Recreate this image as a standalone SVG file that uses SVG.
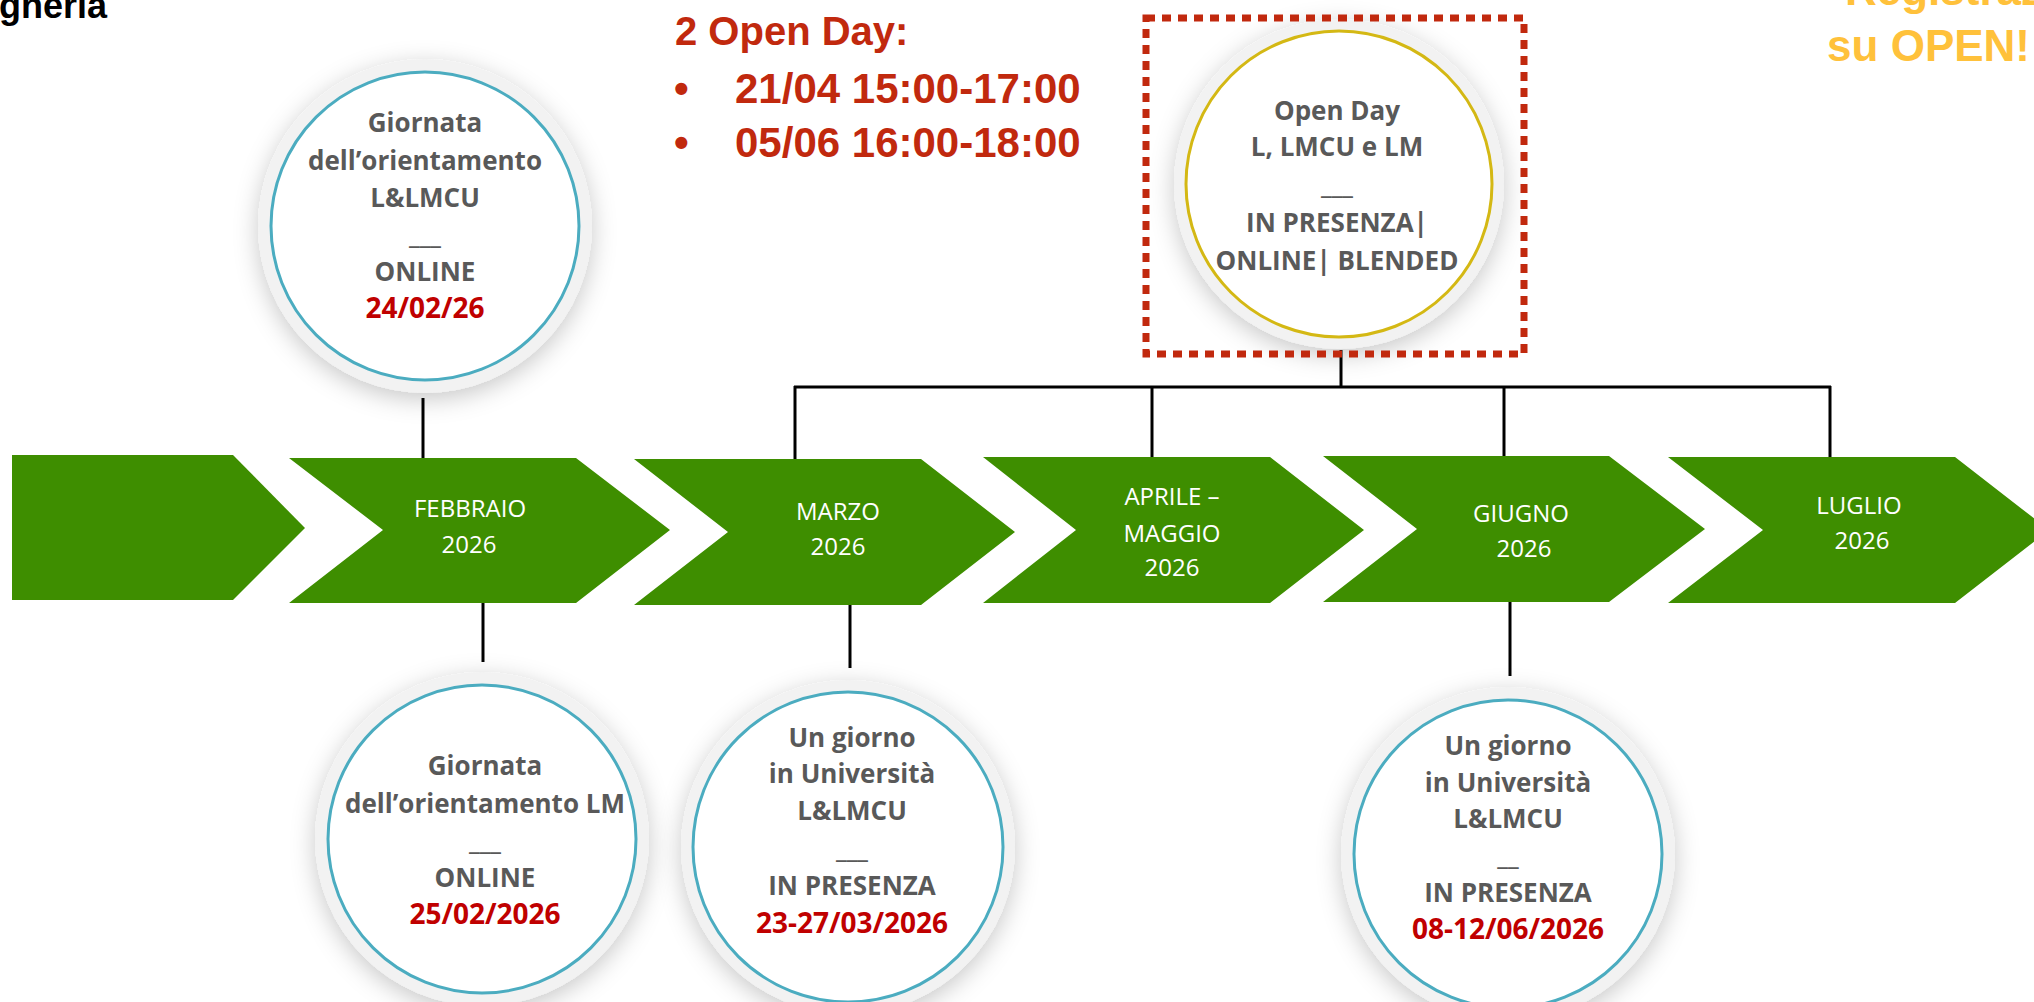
<svg xmlns="http://www.w3.org/2000/svg" width="2034" height="1002" viewBox="0 0 2034 1002">
<defs>
<filter id="sh" x="-30%" y="-30%" width="160%" height="160%">
<feDropShadow dx="0" dy="6" stdDeviation="12" flood-color="#000" flood-opacity="0.22"/>
</filter>
<style>
.chev{fill:#3E8E00}
.mon{font-family:"Open Sans",sans-serif;font-size:24px;fill:#FFFFFF;text-anchor:middle}
.ct{font-family:"Open Sans",sans-serif;font-weight:bold;font-size:26px;fill:#595959;text-anchor:middle}
.dt{fill:#C00000;font-size:28px}
.outer{fill:#F2F2F2;filter:url(#sh)}
.inT{fill:#FFFFFF;stroke:#4BACC0;stroke-width:3}
.inY{fill:#FFFFFF;stroke:#D4B814;stroke-width:3}
.con{stroke:#000;stroke-width:3;fill:none}
.hd{font-family:"Liberation Sans",Arial,sans-serif;font-weight:bold}
</style>
</defs>
<rect width="2034" height="1002" fill="#FFFFFF"/>

<text class="hd" x="-1" y="18" font-size="36" fill="#000">gneria</text>
<text class="hd" x="1845" y="5" font-size="44" fill="#FFC13B">Registrazione</text>
<text class="hd" x="2030" y="61" font-size="44" fill="#FFC13B" text-anchor="end">su OPEN!</text>

<g id="openday-info" class="hd" fill="#C1290E">
<text x="675" y="45" font-size="40">2 Open Day:</text>
<text x="674" y="103" font-size="42">•</text>
<text x="735" y="103" font-size="42">21/04 15:00-17:00</text>
<text x="674" y="157" font-size="42">•</text>
<text x="735" y="157" font-size="42">05/06 16:00-18:00</text>
</g>

<g id="connectors">
<line class="con" x1="423" y1="398" x2="423" y2="458"/>
<line class="con" x1="483" y1="603" x2="483" y2="662"/>
<line class="con" x1="850" y1="605" x2="850" y2="668"/>
<line class="con" x1="1510" y1="602" x2="1510" y2="676"/>
<line class="con" x1="1341" y1="350" x2="1341" y2="387"/>
<line class="con" x1="794" y1="387" x2="1831" y2="387"/>
<line class="con" x1="795" y1="386" x2="795" y2="459"/>
<line class="con" x1="1152" y1="386" x2="1152" y2="457"/>
<line class="con" x1="1504" y1="386" x2="1504" y2="456"/>
<line class="con" x1="1830" y1="386" x2="1830" y2="457"/>
</g>

<g id="timeline">
<g id="m0"><polygon class="chev" points="12,455 233,455 305,528 233,600 12,600"/></g>
<g id="m1"><polygon class="chev" points="289,458 576,458 670,530 576,603 289,603 383,530"/>
<text class="mon" x="470" y="517">FEBBRAIO</text><text class="mon" x="469" y="553">2026</text></g>
<g id="m2"><polygon class="chev" points="634,459 921,459 1015,532 921,605 634,605 728,532"/>
<text class="mon" x="838" y="520">MARZO</text><text class="mon" x="838" y="555">2026</text></g>
<g id="m3"><polygon class="chev" points="983,457 1270,457 1364,530 1270,603 983,603 1076,530"/>
<text class="mon" x="1172" y="505">APRILE –</text><text class="mon" x="1172" y="542">MAGGIO</text><text class="mon" x="1172" y="576">2026</text></g>
<g id="m4"><polygon class="chev" points="1323,456 1609,456 1705,529 1609,602 1323,602 1417,529"/>
<text class="mon" x="1521" y="522">GIUGNO</text><text class="mon" x="1524" y="557">2026</text></g>
<g id="m5"><polygon class="chev" points="1668,457 1955,457 2049,530 1955,603 1668,603 1763,530"/>
<text class="mon" x="1859" y="514">LUGLIO</text><text class="mon" x="1862" y="549">2026</text></g>
</g>

<g id="n-giornata-l">
<circle class="outer" cx="425" cy="226" r="167"/>
<circle class="inT" cx="425" cy="226" r="154"/>
<text class="ct" x="425" y="132">Giornata</text>
<text class="ct" x="425" y="170">dell’orientamento</text>
<text class="ct" x="425" y="207">L&amp;LMCU</text>
<text class="ct" x="425" y="244">___</text>
<text class="ct" x="425" y="281">ONLINE</text>
<text class="ct dt" x="425" y="318">24/02/26</text>
</g>

<g id="n-openday">
<circle class="outer" cx="1339" cy="184" r="165"/>
<circle class="inY" cx="1339" cy="184" r="153"/>
<text class="ct" x="1337" y="120">Open Day</text>
<text class="ct" x="1337" y="156">L, LMCU e LM</text>
<text class="ct" x="1337" y="194">___</text>
<text class="ct" x="1337" y="232">IN PRESENZA|</text>
<text class="ct" x="1337" y="270">ONLINE| BLENDED</text>
<rect x="1146" y="18" width="378" height="336" fill="none" stroke="#C1290E" stroke-width="7" stroke-dasharray="9 7"/>
</g>

<g id="n-giornata-lm">
<circle class="outer" cx="482" cy="839" r="167"/>
<circle class="inT" cx="482" cy="839" r="154"/>
<text class="ct" x="485" y="775">Giornata</text>
<text class="ct" x="485" y="813">dell’orientamento LM</text>
<text class="ct" x="485" y="850">___</text>
<text class="ct" x="485" y="887">ONLINE</text>
<text class="ct dt" x="485" y="924">25/02/2026</text>
</g>

<g id="n-ugu-marzo">
<circle class="outer" cx="848" cy="847" r="167"/>
<circle class="inT" cx="848" cy="847" r="155"/>
<text class="ct" x="852" y="747">Un giorno</text>
<text class="ct" x="852" y="783">in Università</text>
<text class="ct" x="852" y="820">L&amp;LMCU</text>
<text class="ct" x="852" y="858">___</text>
<text class="ct" x="852" y="895">IN PRESENZA</text>
<text class="ct dt" x="852" y="933">23-27/03/2026</text>
</g>

<g id="n-ugu-giugno">
<circle class="outer" cx="1508" cy="854" r="167"/>
<circle class="inT" cx="1508" cy="854" r="154"/>
<text class="ct" x="1508" y="755">Un giorno</text>
<text class="ct" x="1508" y="792">in Università</text>
<text class="ct" x="1508" y="828">L&amp;LMCU</text>
<text class="ct" x="1508" y="865">__</text>
<text class="ct" x="1508" y="902">IN PRESENZA</text>
<text class="ct dt" x="1508" y="939">08-12/06/2026</text>
</g>
</svg>
